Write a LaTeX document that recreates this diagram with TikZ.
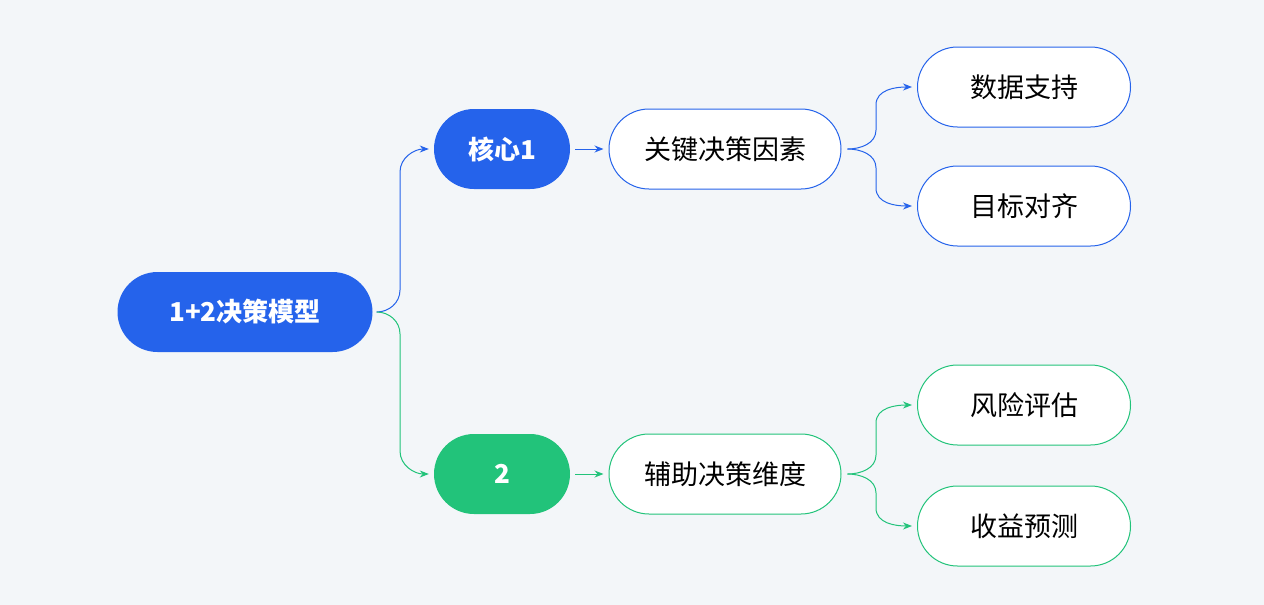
\documentclass[tikz,border=0pt]{standalone}
\usepackage{fontspec}
\setmainfont{Noto Sans CJK SC}
\usetikzlibrary{arrows.meta}
\definecolor{bl}{HTML}{2563EB}
\definecolor{gr}{HTML}{22C37A}
\definecolor{bg}{HTML}{F3F6F9}
\begin{document}
\begin{tikzpicture}[x=1pt,y=-1pt,
 filled/.style={rounded corners=40pt,minimum height=80pt,text=white,font=\fontsize{26}{30}\selectfont\bfseries,inner sep=0pt},
 outl/.style={rounded corners=40pt,minimum height=80pt,fill=white,draw,line width=1pt,font=\fontsize{27}{31}\selectfont,inner sep=0pt},
 ar/.style={-{Stealth[length=9pt,width=7pt]},line width=1pt}]
\fill[bg] (0,0) rectangle (1264,605);
\useasboundingbox (0,0) rectangle (1264,605);
\node[filled,fill=bl,minimum width=255pt] (root) at (245,312) {1+2决策模型};
\node[filled,fill=bl,minimum width=136pt] (c1) at (502,149) {核心1};
\node[filled,fill=gr,minimum width=136pt] (c2) at (502,474) {2};
\node[outl,draw=bl,minimum width=232pt] (k) at (725,149) {关键决策因素};
\node[outl,draw=gr,minimum width=232pt] (f) at (725,474) {辅助决策维度};
\node[outl,draw=bl,minimum width=213pt] (a) at (1024,87) {数据支持};
\node[outl,draw=bl,minimum width=213pt] (b) at (1024,206) {目标对齐};
\node[outl,draw=gr,minimum width=213pt] (c) at (1024,405) {风险评估};
\node[outl,draw=gr,minimum width=213pt] (d) at (1024,526) {收益预测};
\draw[ar,bl] ([xshift=4pt]root.east) to[out=0,in=-90] (400,290) -- (400,172) to[out=90,in=180] ([xshift=-5pt]c1.west);
\draw[ar,gr] ([xshift=4pt]root.east) to[out=0,in=90] (400,334) -- (400,451) to[out=-90,in=180] ([xshift=-5pt]c2.west);
\draw[ar,bl] ([xshift=5pt]c1.east) -- ([xshift=-5pt]k.west);
\draw[ar,gr] ([xshift=5pt]c2.east) -- ([xshift=-5pt]f.west);
\draw[ar,bl] ([xshift=6pt]k.east) to[out=0,in=-90] (876,130) -- (876,105) to[out=90,in=180] ([xshift=-5pt]a.west);
\draw[ar,bl] ([xshift=6pt]k.east) to[out=0,in=90] (876,168) -- (876,188) to[out=-90,in=180] ([xshift=-5pt]b.west);
\draw[ar,gr] ([xshift=6pt]f.east) to[out=0,in=-90] (876,455) -- (876,423) to[out=90,in=180] ([xshift=-5pt]c.west);
\draw[ar,gr] ([xshift=6pt]f.east) to[out=0,in=90] (876,493) -- (876,508) to[out=-90,in=180] ([xshift=-5pt]d.west);
\end{tikzpicture}
\end{document}
